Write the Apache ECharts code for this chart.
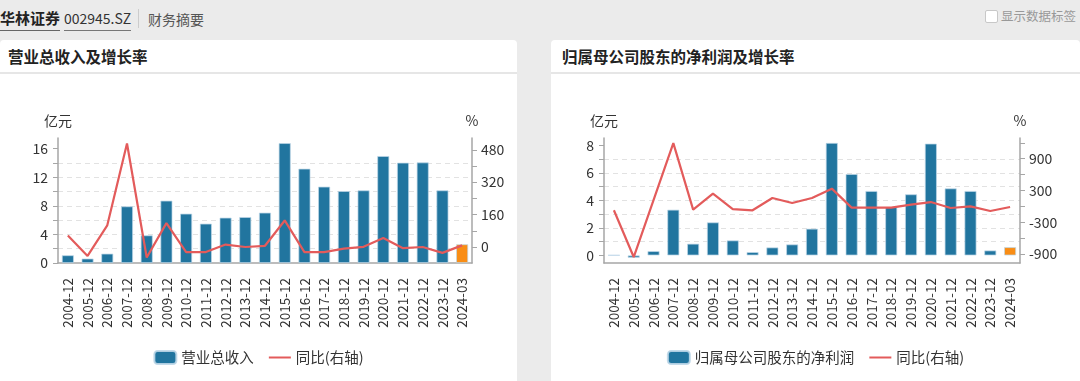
<!DOCTYPE html>
<html>
<head>
<meta charset="utf-8">
<script src="https://cdn.jsdelivr.net/npm/echarts@6/dist/echarts.min.js"></script>
<style>
  html, body { margin: 0; padding: 0; }
  body {
    width: 1080px; height: 381px; overflow: hidden; position: relative;
    background: #ebebeb;
    font-family: "Noto Sans CJK SC", "Noto Sans", sans-serif;
    color: #333;
  }
  .hdr { position: absolute; top: 8px; height: 22px; line-height: 22px; white-space: nowrap; }
  .name { left: 0; font-weight: bold; font-size: 15px; color: #222; border-bottom: 1px solid #666; line-height: 20px; }
  .code { left: 64px; font-size: 14px; color: #333; border-bottom: 1px solid #777; line-height: 20px; }
  .sep { position: absolute; left: 138px; top: 9px; width: 1px; height: 19px; background: #ccc; }
  .sub { left: 148px; font-size: 14px; color: #555; }
  .chk { position: absolute; left: 985px; top: 10px; width: 11px; height: 11px; border: 1px solid #c8c8c8; border-radius: 2px; background: #fff; }
  .chklbl { left: 1001px; top: 5px; font-size: 12.5px; color: #999; }
  .panel { position: absolute; top: 40px; height: 341px; background: #fff; border-radius: 4px 4px 0 0; }
  .ptitle { position: absolute; left: 0; top: 0; right: 0; height: 32px; border-bottom: 2px solid #e6e6e6;
            font-weight: bold; font-size: 15.5px; color: #222; line-height: 33px; padding-left: 8px; }
  .chart { position: absolute; top: 34px; height: 307px; }
</style>
</head>
<body>
  <div class="hdr name">华林证券</div>
  <div class="hdr code">002945.SZ</div>
  <div class="sep"></div>
  <div class="hdr sub">财务摘要</div>
  <div class="chk"></div>
  <div class="hdr chklbl">显示数据标签</div>

  <div class="panel" style="left:0;width:517px;">
    <div class="ptitle">营业总收入及增长率</div>
    <div id="c1" class="chart" style="left:0;width:517px;"></div>
  </div>
  <div class="panel" style="left:551px;width:529px;">
    <div class="ptitle" style="padding-left:11px;">归属母公司股东的净利润及增长率</div>
    <div id="c2" class="chart" style="left:0;width:529px;"></div>
  </div>

<script>
const categories = ['2004-12','2005-12','2006-12','2007-12','2008-12','2009-12','2010-12','2011-12','2012-12','2013-12','2014-12','2015-12','2016-12','2017-12','2018-12','2019-12','2020-12','2021-12','2022-12','2023-12','2024-03'];

const revenue = [1.08,0.62,1.31,7.93,3.87,8.73,6.91,5.51,6.35,6.43,7.05,16.78,13.2,10.69,10.07,10.17,14.97,14.04,14.08,10.17,2.62];
const revenueYoY = [57,-44,107,511,-52,118,-25,-25,12,0,6,131,-25,-25,-8,1,44,-6,0,-29,8];

const profit = [0.02,-0.17,0.31,3.32,0.85,2.4,1.09,0.24,0.58,0.8,1.94,8.17,5.91,4.68,3.51,4.44,8.12,4.87,4.68,0.36,0.6];
const profitYoY = [-75,-957,119,1194,-62,240,-51,-75,157,62,157,334,-25,-25,-25,32,81,-32,0,-88,-13];

const revLeftTicks = [0,2,4,6,8,10,12,14,16];
const revLeftLabels = [0,4,8,12,16];
const revRightTicks = [0,80,160,240,320,400,480];
const revRightLabels = [0,160,320,480];

const profLeftTicks = [0,1,2,3,4,5,6,7,8];
const profLeftLabels = [0,2,4,6,8];
const profRightTicks = [-900,-600,-300,0,300,600,900,1200];
const profRightLabels = [-900,-300,300,900];

const BLUE = '#21759f';
const ORANGE = '#f98d15';
const RED = '#e35b5b';
const AXIS = '#a6a6a6';
const FONT = '"Noto Sans CJK SC", "Noto Sans", sans-serif';

function barData(values) {
  return values.map((v, i) => i === values.length - 1
    ? { value: v, itemStyle: { color: ORANGE } }
    : v);
}

function makeOption(cfg) {
  return {
    animation: false,
    textStyle: { fontFamily: FONT },
    grid: { left: cfg.gridLeft, right: cfg.gridRight, top: 64, bottom: 118, containLabel: false },
    legend: {
      left: 'center', top: 271, itemWidth: 22, itemHeight: 13, itemGap: 14,
      textStyle: { fontSize: 14.5, color: '#333', fontFamily: FONT },
      data: [
        { name: cfg.barName, icon: 'roundRect' },
        { name: '同比(右轴)', itemStyle: { opacity: 0 } }
      ]
    },
    xAxis: {
      type: 'category', data: categories, boundaryGap: true,
      axisLine: { onZero: false, lineStyle: { color: AXIS, width: 1.5 } },
      axisTick: { alignWithLabel: true, length: 7, lineStyle: { color: AXIS } },
      axisLabel: { rotate: 90, interval: 0, fontSize: 13.5, color: '#333', margin: 15, fontFamily: FONT }
    },
    yAxis: [
      {
        type: 'value', position: 'left', min: cfg.lMin, max: cfg.lMax, splitNumber: cfg.lSplit,
        name: '亿元', nameLocation: 'end', nameGap: 10,
        nameTextStyle: { fontSize: 14, color: '#333', align: 'center', fontFamily: FONT },
        axisLine: { show: true, lineStyle: { color: AXIS, width: 1.5 } },
        axisTick: { show: true, length: 5, customValues: cfg.lTicks, lineStyle: { color: AXIS } },
        axisLabel: { customValues: cfg.lLabels, fontSize: 14, color: '#333', margin: 10, fontFamily: FONT },
        splitLine: { show: true, showMinLine: false, showMaxLine: false, lineStyle: { color: '#e2e2e2', type: [5, 4] } }
      },
      {
        type: 'value', position: 'right', min: cfg.rMin, max: cfg.rMax,
        name: '%', nameLocation: 'end', nameGap: 10,
        nameTextStyle: { fontSize: 14, color: '#333', align: 'center', fontFamily: FONT },
        axisLine: { show: true, lineStyle: { color: AXIS, width: 1.5 } },
        axisTick: { show: true, length: 5, customValues: cfg.rTicks, lineStyle: { color: AXIS } },
        axisLabel: { customValues: cfg.rLabels, fontSize: 14, color: '#333', margin: 9, fontFamily: FONT },
        splitLine: { show: false }
      }
    ],
    series: [
      {
        name: cfg.barName, type: 'bar', yAxisIndex: 0, data: barData(cfg.bars),
        barWidth: 12, itemStyle: { color: BLUE, borderColor: 'rgba(190,215,232,0.9)', borderWidth: 0.8 }
      },
      {
        name: '同比(右轴)', type: 'line', yAxisIndex: 1, data: cfg.line,
        symbol: 'none', showSymbol: false, z: 5,
        lineStyle: { color: RED, width: 2.2 }, itemStyle: { color: 'rgba(0,0,0,0)' }
      }
    ]
  };
}

const c1 = echarts.init(document.getElementById('c1'), null, { renderer: 'canvas' });
c1.setOption(makeOption({
  gridLeft: 58, gridRight: 45, barName: '营业总收入',
  bars: revenue, line: revenueYoY,
  lMin: 0, lMax: 17.5, lSplit: 9, lTicks: revLeftTicks, lLabels: revLeftLabels,
  rMin: -79, rMax: 538, rTicks: revRightTicks, rLabels: revRightLabels
}));

const c2 = echarts.init(document.getElementById('c2'), null, { renderer: 'canvas' });
c2.setOption(makeOption({
  gridLeft: 53, gridRight: 60, barName: '归属母公司股东的净利润',
  bars: profit, line: profitYoY,
  lMin: -0.55, lMax: 8.53, lSplit: 9, lTicks: profLeftTicks, lLabels: profLeftLabels,
  rMin: -1070, rMax: 1290, rTicks: profRightTicks, rLabels: profRightLabels
}));
</script>
</body>
</html>
